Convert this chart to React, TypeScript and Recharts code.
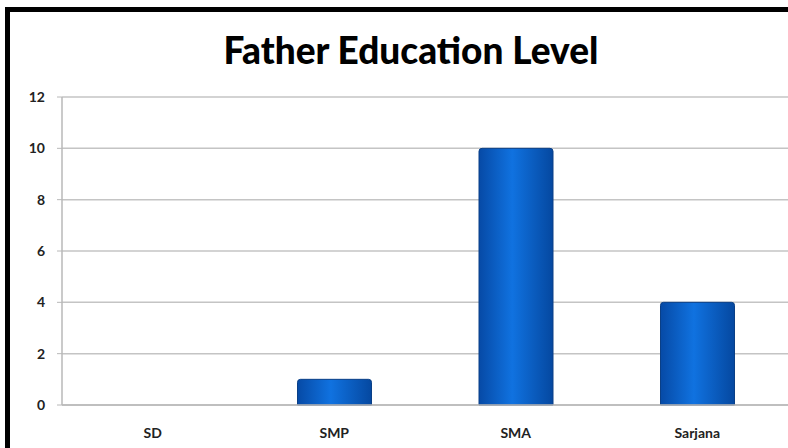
import { BarChart, Bar, XAxis, YAxis, CartesianGrid } from 'recharts'

const categories = ['SD', 'SMP', 'SMA', 'Sarjana']
const counts = [0, 1, 10, 4]
const yTicks = [0, 2, 4, 6, 8, 10, 12]

const data = categories.map((name, i) => ({ name, value: counts[i] }))

export default function App() {
    return (
        <div
            style={{
                position: 'fixed',
                top: 0,
                left: 0,
                width: 788,
                height: 448,
                overflow: 'hidden',
                background: '#fff',
                fontFamily: 'Lato, sans-serif',
            }}
        >
            {/* frame: only the top and left edges show in the crop */}
            <svg width={788} height={448} style={{ position: 'absolute', top: 0, left: 0 }}>
                <path d="M7.5 448 L7.5 9.5 L788 9.5" fill="none" stroke="#000" strokeWidth={5} />
            </svg>
            <div
                style={{
                    position: 'absolute',
                    top: 27,
                    left: 0,
                    width: 822,
                    textAlign: 'center',
                    fontSize: 37,
                    fontWeight: 900,
                    color: '#000',
                    lineHeight: '46px',
                }}
            >
                Father Education Level
            </div>
            <div style={{ position: 'absolute', top: 0, left: 0 }}>
                <BarChart
                    width={788}
                    height={448}
                    data={data}
                    margin={{ top: 97, right: 0, bottom: 13, left: 0 }}
                >
                    <defs>
                        <linearGradient id="barFill" x1="0" y1="0" x2="1" y2="0">
                            <stop offset="0%" stopColor="#064aa6" />
                            <stop offset="45%" stopColor="#1072e0" />
                            <stop offset="100%" stopColor="#0548a0" />
                        </linearGradient>
                    </defs>
                    <CartesianGrid vertical={false} stroke="#c4c4c4" strokeWidth={1.5} />
                    <XAxis
                        dataKey="name"
                        height={30}
                        axisLine={{ stroke: '#b8b8b8', strokeWidth: 1.5 }}
                        tickLine={false}
                        tickMargin={17}
                        tick={{ fontSize: 14, fill: '#222', fontWeight: 700, fontFamily: 'Lato, sans-serif' }}
                    />
                    <YAxis
                        width={62}
                        domain={[0, 12]}
                        ticks={yTicks}
                        interval={0}
                        axisLine={{ stroke: '#b8b8b8', strokeWidth: 1.5 }}
                        tickLine={{ stroke: '#b8b8b8' }}
                        tickSize={5}
                        tickMargin={12}
                        tick={{ fontSize: 14, fill: '#222', fontWeight: 700, fontFamily: 'Lato, sans-serif' }}
                    />
                    <Bar
                        dataKey="value"
                        fill="url(#barFill)"
                        stroke="#0a3f86"
                        strokeWidth={1}
                        barSize={74}
                        radius={[3, 3, 0, 0]}
                        isAnimationActive={false}
                    />
                </BarChart>
            </div>
        </div>
    )
}
